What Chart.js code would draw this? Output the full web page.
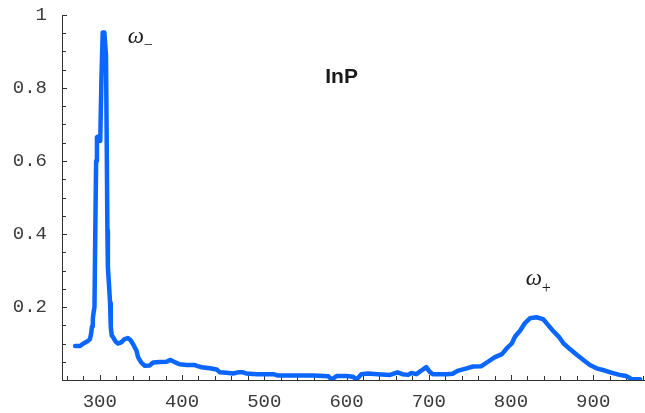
<!DOCTYPE html>
<html>
<head>
<meta charset="utf-8">
<script src="https://cdn.jsdelivr.net/npm/chart.js@4.4.1/dist/chart.umd.min.js"></script>
<style>
  html, body { margin: 0; padding: 0; background: #fff; }
  canvas { display: block; }
</style>
</head>
<body>
<canvas id="spectrum" width="645" height="413"></canvas>
<script>
// Raman spectrum of InP: wavenumber (cm^-1) and normalised intensity
const wavenumber = [
  270, 276, 280, 285, 288, 289.5, 290.5, 291.5, 292.5, 293.5,
  294.5, 295.5, 296.5, 299, 300.5, 302, 303.5, 305.5, 307.5, 308.5,
  309.2, 309.8, 312.5, 313.3, 314.5, 316, 319, 322, 326, 330,
  334, 337, 340.5, 344.6, 346.6, 350.7, 354.7, 360.8, 364.8, 373,
  381, 386, 391, 397, 405.5, 415.6, 419, 424, 434, 442,
  446, 454, 462, 468, 474, 478, 491, 511, 517, 543,
  560, 578, 582, 588, 600, 608, 612, 618, 626, 638,
  653, 662, 668, 675, 679, 685, 691, 697, 701, 705,
  722, 729, 735, 746, 754, 764, 772, 780, 789, 795,
  801, 805, 811, 817, 823, 831, 839, 845, 851, 858,
  864, 872, 880, 888, 896, 904, 914, 922, 932, 940,
  947, 957
];
const intensity = [
  0.093, 0.093, 0.100, 0.106, 0.112, 0.128, 0.147, 0.168, 0.186, 0.200,
  0.410, 0.600, 0.665, 0.668, 0.655, 0.830, 0.952, 0.952, 0.890, 0.620,
  0.410, 0.310, 0.210, 0.145, 0.122, 0.118, 0.106, 0.100, 0.103, 0.112,
  0.115, 0.110, 0.098, 0.080, 0.062, 0.047, 0.039, 0.040, 0.048, 0.049,
  0.050, 0.055, 0.049, 0.043, 0.041, 0.041, 0.038, 0.035, 0.032, 0.029,
  0.021, 0.020, 0.018, 0.021, 0.021, 0.018, 0.016, 0.016, 0.012, 0.012,
  0.012, 0.010, 0.001, 0.011, 0.011, 0.009, 0.001, 0.016, 0.018, 0.016,
  0.014, 0.021, 0.016, 0.014, 0.019, 0.016, 0.026, 0.035, 0.023, 0.016,
  0.016, 0.017, 0.025, 0.032, 0.037, 0.038, 0.050, 0.062, 0.071, 0.087,
  0.100, 0.119, 0.135, 0.156, 0.169, 0.172, 0.167, 0.151, 0.135, 0.119,
  0.100, 0.084, 0.069, 0.055, 0.041, 0.032, 0.026, 0.020, 0.014, 0.011,
  0.002, 0.002
];

const xTickValues = [300, 400, 500, 600, 700, 800, 900];
const xTickLabels = ['300', '400', '500', '600', '700', '800', '900'];
const yTickValues = [0.2, 0.4, 0.6, 0.8, 1];
const yTickLabels = ['0.2', '0.4', '0.6', '0.8', '1'];

const AXIS_COLOR = '#333333';
const LABEL_COLOR = '#3a3a3a';
const LINE_COLOR = '#0a66ff';
const TICK_FONT = { family: '"Liberation Mono", "DejaVu Sans Mono", monospace', size: 19 };

// Text placed in data coordinates
const annotations = [
  { text: '\u03C9', x: 334, y: 0.923, font: 'italic 23px "Liberation Serif", serif', align: 'left' },
  { text: '\u2212', x: 353.5, y: 0.904, font: '16px "Liberation Serif", serif', align: 'left' },
  { text: 'InP', x: 594, y: 0.813, font: 'bold 21px "Liberation Sans", Arial, sans-serif', align: 'center' },
  { text: '\u03C9', x: 818, y: 0.261, font: 'italic 23px "Liberation Serif", serif', align: 'left' },
  { text: '+', x: 837.5, y: 0.239, font: '16px "Liberation Serif", serif', align: 'left' }
];

// Inward tick marks, major and minor, positioned through the chart scales
const inwardTicks = {
  id: 'inwardTicks',
  beforeDatasetsDraw(chart) {
    const { ctx, scales: { x, y } } = chart;
    const x0 = x.getPixelForValue(x.min);
    const y0 = y.getPixelForValue(0);
    ctx.save();
    ctx.strokeStyle = AXIS_COLOR;
    ctx.lineWidth = 1;
    ctx.beginPath();
    for (let v = 260; v <= x.max; v += 20) {
      const px = Math.round(x.getPixelForValue(v)) + 0.5;
      const len = (v % 100 === 0) ? 5 : 4;
      ctx.moveTo(px, y0);
      ctx.lineTo(px, y0 - len);
    }
    for (let i = 1; i <= 20; i++) {
      const v = i * 0.05;
      const py = Math.round(y.getPixelForValue(v)) + 0.5;
      const len = (i % 4 === 0) ? 5 : 4;
      ctx.moveTo(x0, py);
      ctx.lineTo(x0 + len, py);
    }
    ctx.stroke();
    ctx.restore();
  }
};

const textLabels = {
  id: 'textLabels',
  afterDatasetsDraw(chart) {
    const { ctx, scales: { x, y } } = chart;
    ctx.save();
    ctx.fillStyle = '#1a1a1a';
    ctx.textBaseline = 'alphabetic';
    annotations.forEach(a => {
      ctx.font = a.font;
      ctx.textAlign = a.align;
      ctx.fillText(a.text, x.getPixelForValue(a.x), y.getPixelForValue(a.y));
    });
    ctx.restore();
  }
};

const points = wavenumber.map((w, i) => ({ x: w, y: intensity[i] }));

new Chart(document.getElementById('spectrum'), {
  type: 'line',
  data: {
    datasets: [{
      data: points,
      borderColor: LINE_COLOR,
      borderWidth: 4.5,
      borderJoinStyle: 'round',
      borderCapStyle: 'round',
      pointRadius: 0,
      tension: 0,
      fill: false
    }]
  },
  options: {
    responsive: false,
    animation: false,
    devicePixelRatio: 1,
    layout: { padding: { top: 15, right: 0, left: 0, bottom: 0 } },
    plugins: { legend: { display: false }, tooltip: { enabled: false } },
    scales: {
      x: {
        type: 'linear',
        min: 254,
        max: 963,
        afterBuildTicks: s => { s.ticks = xTickValues.map(v => ({ value: v })); },
        afterFit: s => { s.height = 33; s.paddingLeft = 0; s.paddingRight = 0; },
        grid: { display: true, drawOnChartArea: false, drawTicks: false },
        border: { display: true, color: AXIS_COLOR, width: 1 },
        ticks: {
          padding: 11,
          color: LABEL_COLOR,
          font: TICK_FONT,
          maxRotation: 0,
          autoSkip: false,
          callback: v => { const i = xTickValues.indexOf(v); return i >= 0 ? xTickLabels[i] : ''; }
        }
      },
      y: {
        type: 'linear',
        min: 0,
        max: 1,
        afterBuildTicks: s => { s.ticks = yTickValues.map(v => ({ value: v })); },
        afterFit: s => { s.width = 62; s.paddingTop = 0; s.paddingBottom = 0; },
        grid: { display: true, drawOnChartArea: false, drawTicks: false },
        border: { display: true, color: AXIS_COLOR, width: 1 },
        ticks: {
          padding: 15,
          color: LABEL_COLOR,
          font: TICK_FONT,
          autoSkip: false,
          callback: v => { const i = yTickValues.indexOf(v); return i >= 0 ? yTickLabels[i] : ''; }
        }
      }
    }
  },
  plugins: [inwardTicks, textLabels]
});
</script>
</body>
</html>
